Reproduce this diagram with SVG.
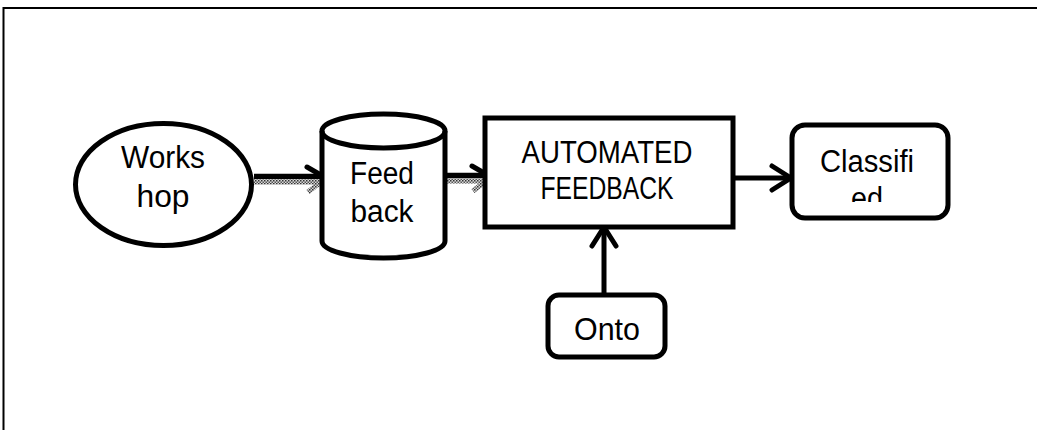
<svg xmlns="http://www.w3.org/2000/svg" width="1037" height="430" viewBox="0 0 1037 430">
<style>
.sh{fill:#fff;stroke:#000;stroke-width:5}
.t{font-family:"Liberation Sans",Arial,sans-serif;font-size:31px;fill:#000;text-anchor:middle}
.ln{fill:none;stroke:#000;stroke-width:5;stroke-linecap:round;stroke-linejoin:round}
.hl{fill:none;stroke:url(#hatch);stroke-width:5;stroke-linecap:butt}
</style>
<defs>
<pattern id="hatch" width="3" height="3" patternUnits="userSpaceOnUse">
<rect width="3" height="3" fill="#d8d8d8"/>
<rect width="1.5" height="1.5" fill="#333"/>
<rect x="1.5" y="1.5" width="1.5" height="1.5" fill="#555"/>
</pattern>
<marker id="ah" markerUnits="userSpaceOnUse" markerWidth="30" markerHeight="30" refX="0" refY="0" viewBox="-22 -15 26 30" orient="auto">
<path d="M-19,-12 L0,0 L-19,12" fill="none" stroke="#000" stroke-width="5" stroke-linecap="round" stroke-linejoin="round"/>
</marker>
<clipPath id="clipC"><rect x="792" y="125" width="156" height="77"/></clipPath>
</defs>
<path d="M3.5,430 V8 H1037" fill="none" stroke="#000" stroke-width="2"/>
<g id="connectors">
<g id="e1">
<line x1="254" y1="176.5" x2="323" y2="176.5" stroke="#000" stroke-width="5.5"/>
<line x1="254" y1="182" x2="320" y2="182" class="hl"/>
<path d="M307,167 L326,178" class="ln"/>
<path d="M326,178 L308,192" class="hl" stroke-width="4"/>
</g>
<g id="e2">
<line x1="447" y1="175.5" x2="488" y2="175.5" stroke="#000" stroke-width="5.5"/>
<line x1="447" y1="181" x2="485" y2="181" class="hl"/>
<path d="M472,166 L491,177" class="ln"/>
<path d="M491,177 L473,191" class="hl" stroke-width="4"/>
</g>
<line id="e3" x1="735" y1="178" x2="791" y2="178" class="ln" marker-end="url(#ah)"/>
<line id="e4" x1="604" y1="294" x2="604" y2="227" class="ln" marker-end="url(#ah)"/>
</g>
<g id="workshop">
<ellipse cx="163.5" cy="184.5" rx="88" ry="61" class="sh"/>
<text x="163" y="168" class="t" textLength="84" lengthAdjust="spacingAndGlyphs">Works</text>
<text x="163" y="207" class="t" textLength="53" lengthAdjust="spacingAndGlyphs">hop</text>
</g>
<g id="feedback">
<path d="M322,131 V241 A61.5,17 0 0 0 445,241 V131 A61.5,17 0 0 0 322,131 Z" class="sh"/>
<path d="M322,131 A61.5,17 0 0 0 445,131" fill="none" stroke="#000" stroke-width="5"/>
<text x="382" y="184" class="t" textLength="64" lengthAdjust="spacingAndGlyphs">Feed</text>
<text x="382" y="222" class="t" textLength="63" lengthAdjust="spacingAndGlyphs">back</text>
</g>
<g id="automated">
<rect x="485" y="118" width="248" height="109" class="sh"/>
<text x="607" y="163" class="t" textLength="171" lengthAdjust="spacingAndGlyphs">AUTOMATED</text>
<text x="607" y="199" class="t" textLength="133" lengthAdjust="spacingAndGlyphs">FEEDBACK</text>
</g>
<g id="classified">
<rect x="792" y="125" width="156" height="93" rx="13" class="sh"/>
<g clip-path="url(#clipC)">
<text x="867" y="172" class="t" textLength="94" lengthAdjust="spacingAndGlyphs">Classifi</text>
<text x="867" y="209" class="t" textLength="32" lengthAdjust="spacingAndGlyphs">ed</text>
</g>
</g>
<g id="onto">
<rect x="548" y="295" width="117" height="62" rx="11" class="sh"/>
<text x="607" y="340" class="t" textLength="66" lengthAdjust="spacingAndGlyphs">Onto</text>
</g>
</svg>
